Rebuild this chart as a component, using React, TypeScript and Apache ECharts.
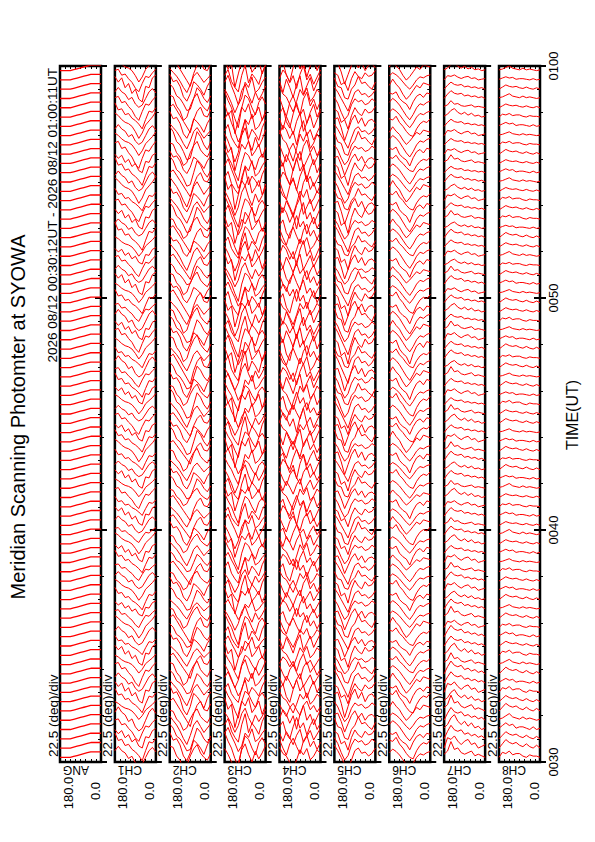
import React, { useEffect, useRef } from "react";
import * as echarts from "echarts";

const FONT = "Liberation Sans, Arial, Helvetica, sans-serif";

const TITLE = "Meridian Scanning Photomter at SYOWA";
const PERIOD = "2026 08/12 00:30:12UT - 2026 08/12 01:00:11UT";
const SCALE_LABEL = "22.5 (deg)/div";
const AXIS_NAME = "TIME(UT)";
const CHANNELS = ["ANG", "CH1", "CH2", "CH3", "CH4", "CH5", "CH6", "CH7", "CH8"];
const ANGLE_END_LABELS = ["180.0", "0.0"];

// scan angles, left (180) to right (0)
const ANGLES = [180, 165, 150, 135, 120, 105, 90, 75, 60, 45, 30, 15, 0];

// scans: start 00:30:12, one every 24 s
const SCAN_START = 30.2;
const SCAN_STEP = 0.4;
const SCAN_COUNT = 75;
const GAIN = 0.85;

// which profile each scan resembles
const ORDER = [0,2,1,3,4,1,0,3,2,4,1,3,0,2,4,3,1,0,4,2,3,0,1,4,2,0,3,1,2,4,0,1,3,4,2,1,0,4,3,2,0,2,4,1,3,0,4,2,1,3,2,0,1,4,3,1,2,0,4,3,1,4,0,2,3,4,1,2,0,3,2,4,1,0,3];

const ANG_PROFILE = [0, 0, 0, 0, 0.1, 0.2, 0.3, 0.4, 0.5, 0.6, 0.6, 0.6, 0.6];

const CH1_SHAPES = [
  [1.0, 0.8, 0.5, 0.3, 0.2, 0.0, -0.4, -0.9, -0.5, 0.1, 0.4, 0.7, 1.1],
  [0.8, 0.9, 0.4, 0.5, 0.1, -0.2, -0.7, -1.0, -0.3, 0.3, 0.2, 0.6, 0.9],
  [1.2, 0.6, 0.7, 0.2, 0.3, -0.1, -0.3, -0.6, -1.0, -0.2, 0.5, 0.4, 0.8],
  [0.6, 1.0, 0.6, 0.4, -0.1, 0.1, -0.5, -0.8, -0.6, 0.0, 0.6, 0.9, 0.5],
  [0.9, 0.5, 0.8, 0.1, 0.4, -0.3, 0.0, -0.7, -0.9, 0.2, 0.1, 0.8, 1.0],
];
const CH2_SHAPES = [
  [0.9, 0.6, 0.3, -0.1, -0.6, -1.0, -0.4, 0.3, 0.6, 0.2, -0.2, 0.1, 0.4],
  [1.1, 0.8, 0.2, 0.0, -0.4, -0.9, -0.8, 0.0, 0.8, 0.5, 0.0, -0.3, 0.2],
  [0.7, 0.9, 0.5, 0.1, -0.3, -0.7, -1.1, -0.2, 0.4, 0.7, 0.1, 0.0, 0.5],
  [1.0, 0.5, 0.6, 0.2, -0.5, -0.8, -0.3, 0.5, 0.3, 0.0, -0.4, 0.2, 0.6],
  [0.8, 0.7, 0.1, -0.2, -0.8, -0.6, 0.1, 0.6, 0.9, 0.3, 0.0, -0.2, 0.3],
];
const CH3_SHAPES = [
  [0.6, 0.2, -0.3, -0.9, -0.4, 0.5, 0.9, 0.2, -0.3, 0.4, -0.1, 0.3, 0.8],
  [0.9, 0.4, 0.0, -0.6, -1.1, 0.0, 0.7, 0.5, 0.0, -0.4, 0.3, 0.6, 0.2],
  [0.3, 0.7, -0.1, -0.5, -0.8, 0.3, 1.0, -0.2, 0.4, 0.1, -0.3, 0.5, 1.0],
  [0.8, 0.1, 0.4, -1.0, -0.2, 0.6, 0.3, 0.8, -0.1, 0.2, 0.6, -0.2, 0.4],
  [0.4, 0.8, 0.2, -0.3, -0.9, -0.5, 0.4, 0.1, 0.7, -0.2, 0.0, 0.4, 0.7],
];
const CH4_SHAPES = [
  [0.5, -0.2, 0.6, 0.1, -0.5, 0.3, 0.8, -0.3, 0.2, 0.7, -0.1, 0.4, 0.9],
  [0.2, 0.6, -0.3, -0.7, 0.2, 0.9, 0.1, 0.5, -0.4, 0.3, 0.8, 0.0, 0.5],
  [0.8, 0.3, 0.1, -0.4, -0.9, -0.2, 0.6, 0.2, 0.7, -0.2, 0.1, 0.6, 0.3],
  [0.1, 0.7, 0.4, -0.2, 0.3, -0.6, 0.4, 1.0, 0.0, 0.4, -0.3, 0.2, 0.7],
  [0.6, 0.0, -0.5, 0.3, 0.7, 0.1, -0.4, 0.5, 0.9, 0.1, 0.5, -0.1, 0.4],
];
const CH5_SHAPES = [
  [0.7, 0.3, -0.3, -0.8, -0.5, 0.2, 0.6, 0.4, 0.5, 0.2, 0.3, 0.6, 0.4],
  [0.9, 0.5, 0.0, -0.5, -1.0, -0.2, 0.5, 0.7, 0.3, 0.4, 0.1, 0.3, 0.7],
  [0.5, 0.6, -0.1, -1.0, -0.3, 0.4, 0.8, 0.2, 0.6, 0.0, 0.4, 0.5, 0.2],
  [0.8, 0.2, 0.1, -0.6, -0.7, 0.0, 0.3, 0.9, 0.4, 0.5, 0.2, 0.0, 0.5],
  [0.6, 0.4, -0.4, -0.2, -0.9, 0.1, 0.7, 0.3, 0.1, 0.6, 0.3, 0.4, 0.8],
];
const CH6_SHAPES = [
  [0.4, 0.7, 0.5, 0.2, -0.2, -0.6, -0.9, -0.5, 0.0, 0.3, 0.2, 0.4, 0.5],
  [0.6, 0.5, 0.8, 0.3, 0.0, -0.4, -0.7, -0.8, -0.2, 0.2, 0.4, 0.3, 0.6],
  [0.3, 0.8, 0.4, 0.1, -0.4, -0.8, -0.5, -0.1, 0.3, 0.1, 0.5, 0.4, 0.3],
  [0.5, 0.4, 0.6, 0.0, -0.3, -0.5, -1.0, -0.3, 0.2, 0.4, 0.1, 0.5, 0.4],
];
const CH7_SHAPES = [
  [0.0, 0.5, 0.9, 0.6, 0.5, 0.6, 0.3, 0.4, 0.2, 0.3, 0.1, 0.2, 0.0],
  [0.1, 0.3, 0.7, 0.9, 0.5, 0.3, 0.5, 0.2, 0.4, 0.1, 0.2, 0.0, 0.1],
  [0.0, 0.6, 0.5, 0.7, 0.4, 0.2, 0.4, 0.5, 0.2, 0.3, 0.0, 0.1, 0.2],
  [0.2, 0.4, 1.0, 0.5, 0.6, 0.3, 0.2, 0.3, 0.4, 0.1, 0.2, 0.1, 0.0],
];
const CH8_SHAPES = [
  [0.0, 0.3, 0.6, 0.4, 0.3, 0.4, 0.2, 0.1, 0.3, 0.1, 0.0, 0.2, 0.0],
  [0.1, 0.2, 0.4, 0.6, 0.3, 0.2, 0.1, 0.3, 0.1, 0.2, 0.1, 0.0, 0.1],
  [0.0, 0.4, 0.3, 0.5, 0.2, 0.3, 0.3, 0.1, 0.0, 0.2, 0.1, 0.1, 0.0],
  [0.1, 0.3, 0.5, 0.3, 0.4, 0.1, 0.2, 0.2, 0.1, 0.0, 0.2, 0.0, 0.1],
];

const CH1_AMP = [1.4,1.6,1.3,1.5,1.7,1.2,1.4,1.5,1.3,1.6,1.2,1.4,1.1,1.3,1.5,1.2,1.0,1.3,1.4,1.2,1.1,1.3,1.2,1.4,1.0,1.2,1.3,1.1,1.4,1.2,1.3,1.1,1.2,1.5,1.3,1.2,1.4,1.1,1.3,1.2,1.4,1.3,1.5,1.2,1.4,1.6,1.3,1.5,1.2,1.4,1.3,1.5,1.2,1.4,1.1,1.3,1.6,1.2,1.4,1.5,1.3,1.7,1.4,1.6,1.3,1.8,1.5,1.4,1.7,1.5,1.6,1.4,1.8,1.5,1.6];
const CH2_AMP = [1.8,2.0,1.7,1.9,1.6,1.8,2.1,1.7,1.5,1.8,1.6,1.4,1.7,1.5,1.8,1.6,1.3,1.5,1.7,1.4,1.5,1.3,1.6,1.4,1.7,1.5,1.4,1.6,1.3,1.5,1.6,1.4,1.7,1.5,1.8,1.6,1.5,1.7,1.9,1.6,1.8,1.7,1.9,1.6,2.0,1.8,1.7,1.9,1.6,1.8,1.5,1.7,1.4,1.6,1.8,1.5,1.7,1.6,1.9,1.7,1.8,2.0,1.7,1.9,1.6,1.8,2.1,1.7,1.9,1.8,2.0,1.7,1.9,1.6,1.8];
const CH3_AMP = [1.9,2.2,1.8,2.0,1.7,2.1,1.9,1.6,1.8,2.0,1.7,1.9,1.6,1.8,2.0,1.7,1.5,1.8,1.9,1.6,1.8,1.6,1.9,1.7,2.0,1.8,1.6,1.9,1.7,1.8,2.0,1.7,1.9,2.1,1.8,2.0,1.7,1.9,2.2,1.8,2.0,1.9,2.1,1.8,2.2,2.0,1.8,2.1,1.9,2.0,1.8,2.0,1.7,1.9,2.1,1.8,2.0,1.9,2.2,2.0,2.1,2.3,1.9,2.2,2.0,2.1,2.4,2.0,2.2,2.1,2.3,2.0,2.2,1.9,2.1];
const CH4_AMP = [1.6,1.8,1.5,1.7,1.9,1.4,1.6,1.8,1.5,1.7,1.4,1.6,1.8,1.5,1.7,1.4,1.6,1.5,1.8,1.6,1.7,1.5,1.8,1.6,1.4,1.7,1.9,1.6,1.8,1.5,1.7,1.9,1.6,1.8,2.0,1.7,1.9,1.6,1.8,2.0,1.9,1.7,2.0,1.8,2.1,1.9,1.7,2.0,1.8,1.9,1.7,1.9,1.6,1.8,2.0,1.7,1.9,1.8,2.1,1.9,2.0,2.2,1.8,2.1,1.9,2.0,2.3,1.9,2.1,2.0,2.2,1.9,2.1,1.8,2.0];
const CH5_AMP = [1.7,1.9,1.6,1.8,1.5,1.7,2.0,1.6,1.8,1.7,1.5,1.7,1.4,1.6,1.8,1.5,1.7,1.6,1.8,1.5,1.6,1.4,1.7,1.5,1.8,1.6,1.5,1.7,1.4,1.6,1.7,1.5,1.8,1.6,1.9,1.7,1.6,1.8,2.0,1.7,1.9,1.8,2.0,1.7,2.1,1.9,1.8,2.0,1.7,1.9,1.6,1.8,1.5,1.7,1.9,1.6,1.8,1.7,2.0,1.8,1.7,1.9,1.6,1.8,1.5,1.7,1.9,1.6,1.8,1.7,1.9,1.6,1.8,1.5,1.7];
const CH6_AMP = [1.5,1.7,1.4,1.6,1.3,1.5,1.8,1.4,1.6,1.5,1.3,1.5,1.2,1.4,1.6,1.3,1.5,1.4,1.6,1.3,1.4,1.2,1.5,1.3,1.6,1.4,1.3,1.5,1.2,1.4,1.5,1.3,1.6,1.4,1.7,1.5,1.4,1.6,1.8,1.5,1.7,1.6,1.8,1.5,1.9,1.7,1.6,1.8,1.5,1.7,1.4,1.6,1.3,1.5,1.7,1.4,1.6,1.5,1.8,1.6,1.5,1.7,1.4,1.6,1.3,1.5,1.7,1.4,1.6,1.5,1.7,1.4,1.6,1.3,1.5];
const CH7_AMP = [2.0,2.2,1.9,2.1,1.8,2.0,1.7,1.9,1.6,1.8,1.5,1.7,1.4,1.6,1.3,1.5,1.4,1.2,1.4,1.3,1.2,1.4,1.1,1.3,1.2,1.0,1.2,1.1,1.3,1.0,1.2,1.1,1.3,1.2,1.4,1.1,1.3,1.2,1.0,1.2,1.1,1.3,1.0,1.2,1.1,1.3,1.2,1.0,1.2,1.1,1.0,1.2,1.1,0.9,1.1,1.0,1.2,0.9,1.1,1.0,1.2,1.0,1.1,0.9,1.1,1.0,0.9,1.1,1.0,1.2,0.9,1.1,1.0,0.9,1.1];
const CH8_AMP = [1.6,1.8,1.5,1.7,1.4,1.6,1.3,1.5,1.2,1.4,1.1,1.3,1.0,1.2,1.0,1.1,0.9,1.1,1.0,0.9,1.0,0.8,1.0,0.9,1.1,0.8,1.0,0.9,0.8,1.0,0.9,1.1,0.8,1.0,0.9,0.8,1.0,0.9,1.1,0.9,1.0,0.8,1.0,0.9,1.1,1.0,0.8,1.0,0.9,1.0,0.8,1.0,0.9,0.8,1.0,0.9,1.1,0.8,1.0,0.9,1.0,0.8,0.9,1.0,0.8,1.0,0.9,0.8,1.0,0.9,0.8,1.0,0.9,0.8,1.0];

const PANEL_SHAPES = [[ANG_PROFILE], CH1_SHAPES, CH2_SHAPES, CH3_SHAPES, CH4_SHAPES, CH5_SHAPES, CH6_SHAPES, CH7_SHAPES, CH8_SHAPES];
const PANEL_AMPS: (number[] | null)[] = [null, CH1_AMP, CH2_AMP, CH3_AMP, CH4_AMP, CH5_AMP, CH6_AMP, CH7_AMP, CH8_AMP];

// layout
const W = 595;
const H = 842;
const P_LEFT = 60;
const P_STEP = 54.875;
const P_W = 41;
const P_TOP = 66;
const P_H = 696;

function fmtTime(v: number) {
  const h = Math.floor(v / 60);
  const m = Math.round(v % 60);
  return String(h).padStart(2, "0") + String(m).padStart(2, "0");
}

function buildOption() {
  const grid: any[] = [];
  const xAxis: any[] = [];
  const yAxis: any[] = [];
  const series: any[] = [];
  const graphic: any[] = [];
  const tickStyle = { color: "#000", width: 1 };

  for (let p = 0; p < CHANNELS.length; p++) {
    const left = P_LEFT + p * P_STEP;
    grid.push({
      left, top: P_TOP, width: P_W, height: P_H,
      show: true, borderColor: "#000", borderWidth: 2.5, backgroundColor: "transparent",
    });
    const xBase = {
      type: "value", gridIndex: p, min: 0, max: 180, interval: 22.5, inverse: true,
      axisLine: { show: false }, axisLabel: { show: false }, splitLine: { show: false },
      axisTick: { show: true, inside: true, length: 3, lineStyle: tickStyle },
    };
    xAxis.push({ ...xBase, position: "bottom" });
    xAxis.push({ ...xBase, position: "top" });
    const yBase = {
      type: "value", gridIndex: p, min: 30, max: 60,
      axisLine: { show: false }, splitLine: { show: false }, minorSplitLine: { show: false },
      axisLabel: { show: false },
    };
    yAxis.push({
      ...yBase, position: "left", interval: 10,
      axisTick: { show: true, inside: true, length: 6, lineStyle: { color: "#000", width: 2 } },
      minorTick: { show: true, splitNumber: 5, length: 3, lineStyle: tickStyle },
    });
    yAxis.push({
      ...yBase, position: "right", interval: 2,
      axisTick: { show: false, inside: true },
      minorTick: { show: true, splitNumber: 2, length: 3, lineStyle: tickStyle },
    });
    yAxis.push({
      ...yBase, position: "right", interval: 10,
      axisTick: { show: true, inside: true, length: 6, lineStyle: { color: "#000", width: 2 } },
      axisLabel: p === CHANNELS.length - 1
        ? { show: true, rotate: 90, margin: 7, fontSize: 13, color: "#000", fontFamily: FONT,
            showMinLabel: true, showMaxLabel: true, formatter: (v: number) => fmtTime(v) }
        : { show: false },
    });

    const shapes = PANEL_SHAPES[p];
    const amps = PANEL_AMPS[p];
    for (let i = 0; i < SCAN_COUNT; i++) {
      const t = SCAN_START + i * SCAN_STEP;
      const shape = shapes[ORDER[(i + p * 7) % ORDER.length] % shapes.length];
      const a = amps ? amps[i] * GAIN : 1;
      const data = ANGLES.map((ang, k) => [ang, t + shape[k] * a * SCAN_STEP]);
      series.push({
        type: "line", xAxisIndex: p * 2, yAxisIndex: p * 3, data,
        symbol: "none", showSymbol: false, silent: true, clip: true,
        lineStyle: { color: "#ff0000", width: p === 0 ? 1.3 : 1 },
      });
    }

    graphic.push({
      type: "text", x: left - 7, y: 757, rotation: Math.PI / 2,
      style: { text: SCALE_LABEL, fontSize: 13.5, fontFamily: FONT, fill: "#000", align: "left", verticalAlign: "middle" },
    });
    graphic.push({
      type: "text", x: left + 8, y: 793, rotation: Math.PI / 2,
      style: { text: ANGLE_END_LABELS[0], fontSize: 13, fontFamily: FONT, fill: "#000", align: "center", verticalAlign: "middle" },
    });
    graphic.push({
      type: "text", x: left + 35, y: 791, rotation: Math.PI / 2,
      style: { text: ANGLE_END_LABELS[1], fontSize: 13, fontFamily: FONT, fill: "#000", align: "center", verticalAlign: "middle" },
    });
    graphic.push({
      type: "text", x: left + 3, y: 770, rotation: Math.PI,
      style: { text: CHANNELS[p], fontSize: 12, fontFamily: FONT, fill: "#000", align: "right", verticalAlign: "middle" },
    });
  }

  graphic.push({
    type: "text", x: 18, y: 417, rotation: Math.PI / 2,
    style: { text: TITLE, fontSize: 20, fontFamily: FONT, fill: "#000", align: "center", verticalAlign: "middle" },
  });
  graphic.push({
    type: "text", x: 52, y: 68, rotation: Math.PI / 2,
    style: { text: PERIOD, fontSize: 13.5, fontFamily: FONT, fill: "#000", align: "right", verticalAlign: "middle" },
  });
  graphic.push({
    type: "text", x: 572, y: 415, rotation: Math.PI / 2,
    style: { text: AXIS_NAME, fontSize: 16, fontFamily: FONT, fill: "#000", align: "center", verticalAlign: "middle" },
  });

  return {
    animation: false,
    backgroundColor: "#fff",
    textStyle: { fontFamily: FONT },
    grid, xAxis, yAxis, series, graphic,
  };
}

export default function App() {
  const ref = useRef<HTMLDivElement>(null);
  useEffect(() => {
    document.body.style.margin = "0";
    if (!ref.current) return;
    const chart = echarts.init(ref.current, null, { renderer: "svg", width: W, height: H });
    chart.setOption(buildOption() as any);
    return () => chart.dispose();
  }, []);
  return <div ref={ref} style={{ width: W, height: H, position: "absolute", left: 0, top: 0 }} />;
}
